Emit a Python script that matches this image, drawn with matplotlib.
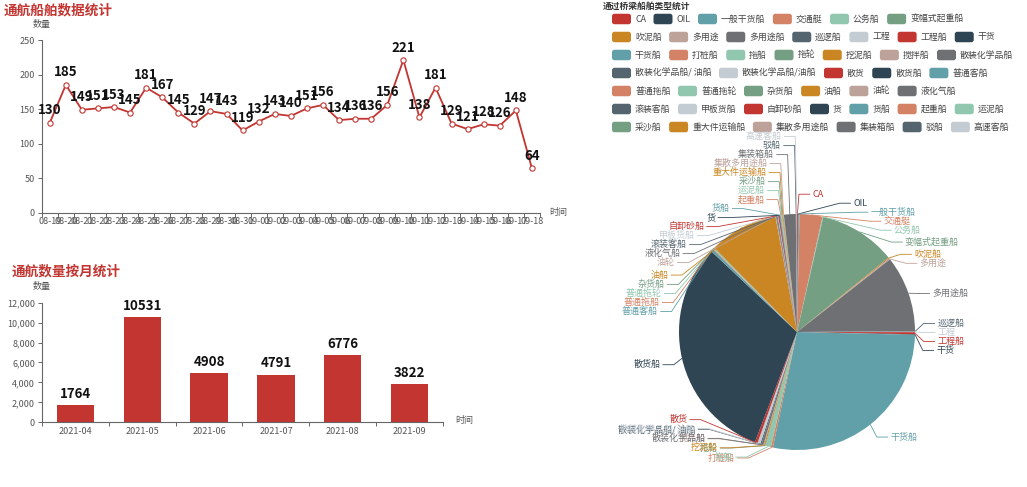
import numpy as np
import matplotlib
matplotlib.use('Agg')
import matplotlib.pyplot as plt
from matplotlib.patches import FancyBboxPatch
from matplotlib.ticker import FixedLocator, FuncFormatter

plt.rcParams['font.family'] = ['Noto Sans CJK SC', 'DejaVu Sans']

# ---------------- data ----------------
dates = ['08-19', '08-20', '08-21', '08-22', '08-23', '08-24', '08-25', '08-26',
         '08-27', '08-28', '08-29', '08-30', '08-31', '09-01', '09-02', '09-03',
         '09-04', '09-05', '09-06', '09-07', '09-08', '09-09', '09-10', '09-11',
         '09-12', '09-13', '09-14', '09-15', '09-16', '09-17', '09-18']
daily_counts = [130, 185, 149, 151, 153, 145, 181, 167, 145, 129, 147, 143, 119,
                132, 143, 140, 151, 156, 134, 136, 136, 156, 221, 138, 181, 129,
                121, 128, 126, 148, 64]

months = ['2021-04', '2021-05', '2021-06', '2021-07', '2021-08', '2021-09']
monthly_counts = [1764, 10531, 4908, 4791, 6776, 3822]

ship_types = ['CA', 'OIL', '一般干货船', '交通艇', '公务船', '变幅式起重船',
              '吹泥船', '多用途', '多用途船', '巡逻船', '工程', '工程船', '干货',
              '干货船', '打桩船', '拖船', '拖轮', '挖泥船', '搅拌船', '散装化学品船',
              '散装化学品船/ 油船', '散装化学品船/油船', '散货', '散货船', '普通客船',
              '普通拖船', '普通拖轮', '杂货船', '油船', '油轮', '液化气船',
              '滚装客船', '甲板货船', '自卸砂船', '货', '货船', '起重船', '运泥船',
              '采沙船', '重大件运输船', '集散多用途船', '集装箱船', '驳船', '高速客船']
ship_counts = [4, 3, 5, 113, 4, 380,
               5, 6, 376, 3, 2, 10, 3,
               1004, 10, 26, 3, 6, 3, 10,
               6, 14, 13, 1124, 12,
               4, 4, 3, 338, 3, 4,
               4, 3, 5, 3, 4, 3, 3,
               3, 4, 3, 58, 4, 2]
legend_rows = [6, 7, 7, 5, 6, 7, 6]

palette = ['#c23531', '#2f4554', '#61a0a8', '#d48265', '#91c7ae', '#749f83',
           '#ca8622', '#bda29a', '#6e7074', '#546570', '#c4ccd3']
RED = '#c23531'
AXIS = '#666666'

W, H = 1027, 487
fig = plt.figure(figsize=(W / 100, H / 100), dpi=100)


def fx(x):
    return x / W


def fy(y):
    return 1 - y / H


def px_axes(x0, y0, x1, y1, **kw):
    return fig.add_axes([fx(x0), fy(y1), (x1 - x0) / W, (y1 - y0) / H], **kw)


def style_axes(ax):
    for sp in ['top', 'right']:
        ax.spines[sp].set_visible(False)
    for sp in ['left', 'bottom']:
        ax.spines[sp].set_color(AXIS)
        ax.spines[sp].set_linewidth(0.8)
    ax.set_facecolor('none')


# ---------------- pie (pixel-coordinate overlay) ----------------
axp = fig.add_axes([0, 0, 1, 1])
axp.set_facecolor('none')
cx, cy, R = 797.0, 332.0, 118.0
colors = [palette[i % len(palette)] for i in range(len(ship_types))]
axp.pie(ship_counts, colors=colors, startangle=-90, counterclock=True,
        center=(cx, cy), radius=R, wedgeprops=dict(linewidth=0))
axp.set_xlim(0, W)
axp.set_ylim(H, 0)
axp.set_aspect('auto')
axp.axis('off')

s = 0.75
LEN1, LEN2, LH = 15 * s, 15 * s, 12 * s
VIEW_TOP, VIEW_H = 0.0, 467.0
total = float(sum(ship_counts))
layouts = []
acc = 0.0
for i, (name, val) in enumerate(zip(ship_types, ship_counts)):
    a0 = acc / total * 2 * np.pi
    acc += val
    a1 = acc / total * 2 * np.pi
    mid = (a0 + a1) / 2
    dx, dy = np.sin(mid), -np.cos(mid)
    x1, y1 = cx + R * dx, cy + R * dy
    x2, y2 = x1 + dx * LEN1, y1 + dy * LEN1
    sg = -1 if dx < 0 else 1
    x3 = x2 + sg * LEN2
    layouts.append(dict(name=name, color=colors[i], x=x3 + sg * 5 * s, y=y2,
                        p1=(x1, y1), sg=sg))


def adjust_side(lst, direction):
    lst.sort(key=lambda d: d['y'])
    n = len(lst)

    def shift_up(end, delta):
        for j in range(end, -1, -1):
            if lst[j]['y'] - delta < VIEW_TOP:
                break
            lst[j]['y'] -= delta
            if j > 0 and lst[j]['y'] > lst[j - 1]['y'] + LH:
                break

    def shift_down(start, end, delta):
        for j in range(start, end):
            if lst[j]['y'] + delta > VIEW_TOP + VIEW_H:
                break
            lst[j]['y'] += delta
            if j > start and j + 1 < end and lst[j + 1]['y'] > lst[j]['y'] + LH:
                shift_up(j, delta / 2)
                return
        shift_up(end - 1, delta / 2)

    last_y = 0.0
    for i in range(n):
        delta = lst[i]['y'] - last_y
        if delta < 0:
            shift_down(i, n, -delta)
        last_y = lst[i]['y'] + LH
    if VIEW_H - last_y < 0:
        shift_up(n - 1, last_y - VIEW_H)
    for d in lst:
        ady = abs(d['y'] - cy)
        if ady < R + LEN1:
            ddx = np.sqrt((R + LEN1 + LEN2) ** 2 - ady ** 2)
        else:
            ddx = abs(d['x'] - cx)
        d['x'] = cx + ddx * direction


left = [d for d in layouts if d['x'] < cx]
right = [d for d in layouts if d['x'] >= cx]
adjust_side(right, 1)
adjust_side(left, -1)

for d in layouts:
    sg = d['sg']
    x3 = d['x'] - 3 * s * sg
    x2 = x3 - LEN2 * sg
    axp.plot([d['p1'][0], x2, x3], [d['p1'][1], d['y'], d['y']],
             color=d['color'], lw=0.6, solid_capstyle='butt', zorder=3)
for d in layouts:
    axp.text(d['x'], d['y'], d['name'], color=d['color'], fontsize=6.5,
             ha='left' if d['sg'] > 0 else 'right', va='center', zorder=4)

# legend (flow rows)
renderer = fig.canvas.get_renderer()
ICON_W, ICON_H = 19, 10.5
idx = 0
for r, cnt in enumerate(legend_rows):
    yc = 19 + 18 * r
    x = 612.0
    for k in range(cnt):
        axp.add_patch(FancyBboxPatch((x, yc - ICON_H / 2), ICON_W, ICON_H,
                                     boxstyle='round,pad=0,rounding_size=2.5',
                                     facecolor=colors[idx], edgecolor='none'))
        t = axp.text(x + ICON_W + 4, yc, ship_types[idx], fontsize=6.4,
                     color='#444444', ha='left', va='center')
        tw = t.get_window_extent(renderer).width
        x += ICON_W + 4 + tw + 7.5
        idx += 1

fig.text(fx(603), fy(6.5), '通过桥梁船舶类型统计', fontsize=6.3,
         fontweight='bold', color='#333333', ha='left', va='center')

# ---------------- line chart ----------------
ax1 = px_axes(41.7, 40, 540, 212.7)
style_axes(ax1)
xs = np.arange(len(dates))
ax1.plot(xs, daily_counts, color=RED, lw=1.3, marker='o', ms=3.8,
         mfc='white', mec=RED, mew=0.8, clip_on=False, zorder=3)
for x, v in zip(xs, daily_counts):
    ax1.annotate(str(v), (x, v), xytext=(0, 9), textcoords='offset points',
                 ha='center', va='center', fontsize=9.6, fontweight='bold',
                 color='#111111', zorder=4, annotation_clip=False)
ax1.set_xlim(-0.5, len(dates) - 0.5)
ax1.set_ylim(0, 250)
ax1.yaxis.set_major_locator(FixedLocator([0, 50, 100, 150, 200, 250]))
ax1.tick_params(axis='y', colors=AXIS, labelsize=6.5, length=3, width=0.7,
                pad=2, labelcolor='#555555')
ax1.set_xticks(xs)
ax1.set_xticklabels(dates)
ax1.set_xticks(np.arange(-0.5, len(dates)), minor=True)
ax1.tick_params(axis='x', which='major', length=0, labelsize=6.5, pad=3.2,
                labelcolor='#555555')
ax1.tick_params(axis='x', which='minor', length=3, width=0.7, colors=AXIS)
fig.text(fx(41.5), fy(25), '数量', fontsize=6.5, color='#555555',
         ha='center', va='center')
fig.text(fx(549), fy(212), '时间', fontsize=6.5, color='#555555',
         ha='left', va='center')
fig.text(fx(4), fy(10), '通航船舶数据统计', fontsize=9.8, fontweight='bold',
         color=RED, ha='left', va='center')

# ---------------- bar chart ----------------
ax2 = px_axes(42, 302.7, 443, 422.3)
style_axes(ax2)
bx = np.arange(len(months))
ax2.bar(bx, monthly_counts, width=0.56, color=RED, zorder=2)
for x, v in zip(bx, monthly_counts):
    ax2.annotate(str(v), (x, v), xytext=(0, 8), textcoords='offset points',
                 ha='center', va='center', fontsize=9.6, fontweight='bold',
                 color='#111111', annotation_clip=False)
ax2.set_xlim(-0.5, len(months) - 0.5)
ax2.set_ylim(0, 12000)
ax2.yaxis.set_major_locator(FixedLocator(list(range(0, 12001, 2000))))
ax2.yaxis.set_major_formatter(FuncFormatter(lambda v, p: f'{int(v):,}'))
ax2.tick_params(axis='y', colors=AXIS, labelsize=6.5, length=3, width=0.7,
                pad=2, labelcolor='#555555')
ax2.set_xticks(bx)
ax2.set_xticklabels(months)
ax2.set_xticks(np.arange(-0.5, len(months)), minor=True)
ax2.tick_params(axis='x', which='major', length=0, labelsize=6.5, pad=3.5,
                labelcolor='#555555')
ax2.tick_params(axis='x', which='minor', length=3, width=0.7, colors=AXIS)
fig.text(fx(42), fy(286), '数量', fontsize=6.5, color='#555555',
         ha='center', va='center')
fig.text(fx(455), fy(421), '时间', fontsize=6.5, color='#555555',
         ha='left', va='center')
fig.text(fx(12), fy(271), '通航数量按月统计', fontsize=9.8, fontweight='bold',
         color=RED, ha='left', va='center')

fig.savefig('out.png', dpi=100)
